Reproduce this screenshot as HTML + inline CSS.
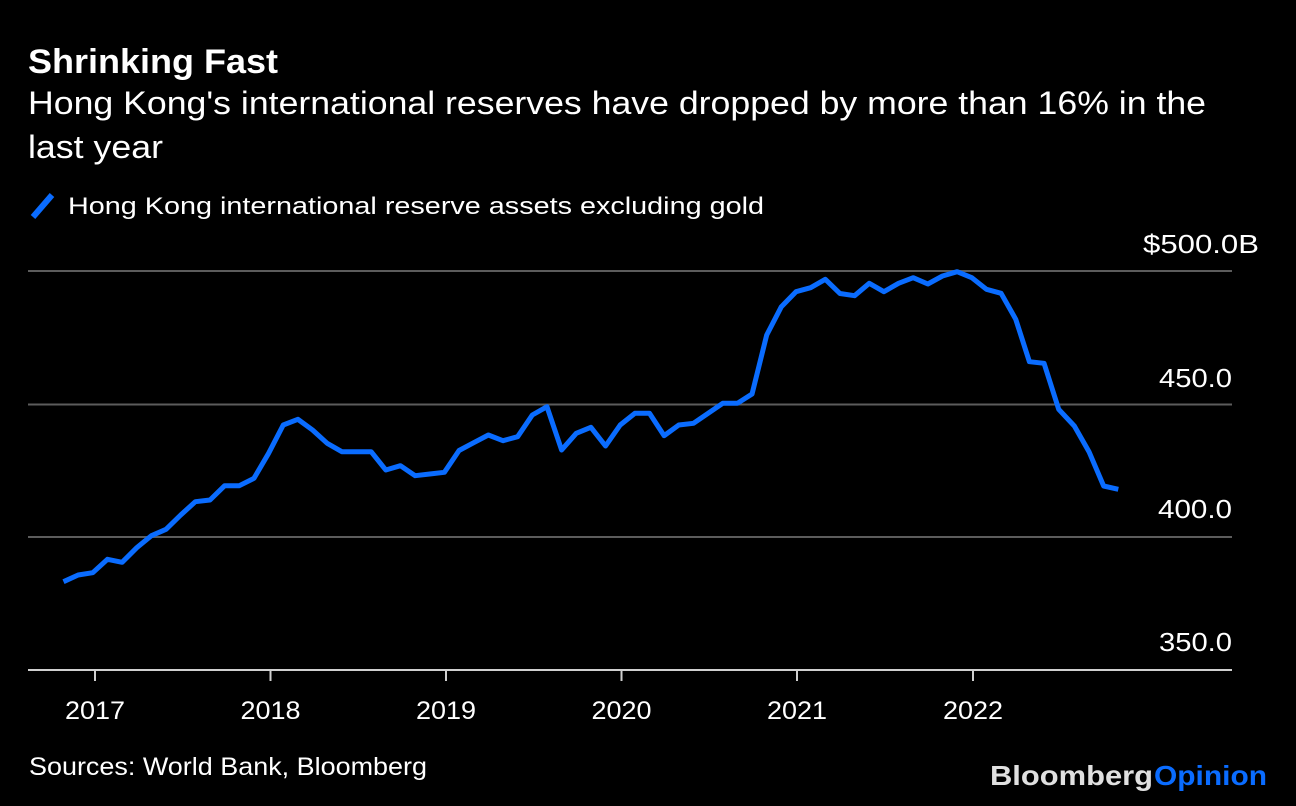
<!DOCTYPE html>
<html><head><meta charset="utf-8"><style>
html,body{margin:0;padding:0;background:#000;}
svg{display:block;}
text{font-family:"Liberation Sans",Arial,sans-serif;fill:#fff;}
</style></head><body>
<svg width="1296" height="806" viewBox="0 0 1296 806" xmlns="http://www.w3.org/2000/svg">
<rect width="1296" height="806" fill="#000"/>
<text x="28" y="73" font-size="34" font-weight="bold" textLength="250" lengthAdjust="spacingAndGlyphs">Shrinking Fast</text>
<text x="28" y="114" font-size="32" textLength="1178" lengthAdjust="spacingAndGlyphs">Hong Kong's international reserves have dropped by more than 16% in the</text>
<text x="28" y="158" font-size="32" textLength="135" lengthAdjust="spacingAndGlyphs">last year</text>
<line x1="33" y1="217" x2="52" y2="195" stroke="#0a6cff" stroke-width="6"/>
<text x="68" y="214" font-size="24.5" textLength="696" lengthAdjust="spacingAndGlyphs">Hong Kong international reserve assets excluding gold</text>
<g stroke="#5c5c5c" stroke-width="2">
<line x1="28" y1="271" x2="1232" y2="271"/>
<line x1="28" y1="404.5" x2="1232" y2="404.5"/>
<line x1="28" y1="537" x2="1232" y2="537"/>
</g>
<g stroke="#d0d0d0" stroke-width="2">
<line x1="28" y1="670" x2="1232" y2="670"/>
<line x1="95" y1="670" x2="95" y2="681"/>
<line x1="270.5" y1="670" x2="270.5" y2="681"/>
<line x1="446" y1="670" x2="446" y2="681"/>
<line x1="621.5" y1="670" x2="621.5" y2="681"/>
<line x1="797" y1="670" x2="797" y2="681"/>
<line x1="973" y1="670" x2="973" y2="681"/>
</g>
<text x="1143" y="253" font-size="26" textLength="116" lengthAdjust="spacingAndGlyphs">$500.0B</text>
<text x="1159" y="387" font-size="26" textLength="73" lengthAdjust="spacingAndGlyphs">450.0</text>
<text x="1158" y="518" font-size="26" textLength="74" lengthAdjust="spacingAndGlyphs">400.0</text>
<text x="1159" y="651" font-size="26" textLength="73" lengthAdjust="spacingAndGlyphs">350.0</text>
<g font-size="25">
<text x="65" y="719" textLength="60" lengthAdjust="spacingAndGlyphs">2017</text>
<text x="240.5" y="719" textLength="60" lengthAdjust="spacingAndGlyphs">2018</text>
<text x="416" y="719" textLength="60" lengthAdjust="spacingAndGlyphs">2019</text>
<text x="591.5" y="719" textLength="60" lengthAdjust="spacingAndGlyphs">2020</text>
<text x="767" y="719" textLength="60" lengthAdjust="spacingAndGlyphs">2021</text>
<text x="943" y="719" textLength="60" lengthAdjust="spacingAndGlyphs">2022</text>
</g>
<text x="29" y="775" font-size="25" textLength="398" lengthAdjust="spacingAndGlyphs">Sources: World Bank, Bloomberg</text>
<text x="990" y="785" font-size="28" font-weight="bold" style="fill:#e0e0e0" textLength="163" lengthAdjust="spacingAndGlyphs">Bloomberg</text>
<text x="1154" y="785" font-size="28" font-weight="bold" style="fill:#0a6cff" textLength="113" lengthAdjust="spacingAndGlyphs">Opinion</text>
<polyline fill="none" stroke="#0a6cff" stroke-width="5" stroke-linejoin="round" stroke-linecap="butt" points="
63.5,581.7 78.15,575 92.8,572.7 107.45,559.3 122.1,562.3 136.75,547.7 151.4,535.7 166.05,529.3 180.7,515 195.35,501.7
210,500 224.65,485.7 239.3,485.7 253.95,478.3 268.6,453.3 283.25,425 297.9,419.3 312.55,430 327.2,443.3 341.85,451.7
356.5,451.7 371.15,451.7 385.8,470 400.45,465.7 415.1,475.7 429.75,474 444.4,472.3 459.05,450.5 473.7,442.7 488.35,435
503,440.7 517.65,436.7 532.3,415 546.95,406.7 561.6,450 576.25,433.3 590.9,427.3 605.55,446 620.2,425 634.85,413.3
649.5,413.3 664.15,435.7 678.8,425 693.45,423.3 708.1,413.3 722.75,403.3 737.4,403.3 752.05,394 766.7,335 781.35,306.7
796,291.7 810.65,287.7 825.3,279.3 839.95,293.5 854.6,295.7 869.25,283.3 883.9,291.7 898.55,283.3 913.2,277.7 927.85,284
942.5,276 957.15,271.7 971.8,277.7 986.45,289.3 1001.1,293.3 1015.75,319.3 1029.4,361.7 1044.05,363.3 1058.7,409.3 1074.35,426
1089,451.7 1103.65,486 1118.3,489.3"/>
</svg>
</body></html>
